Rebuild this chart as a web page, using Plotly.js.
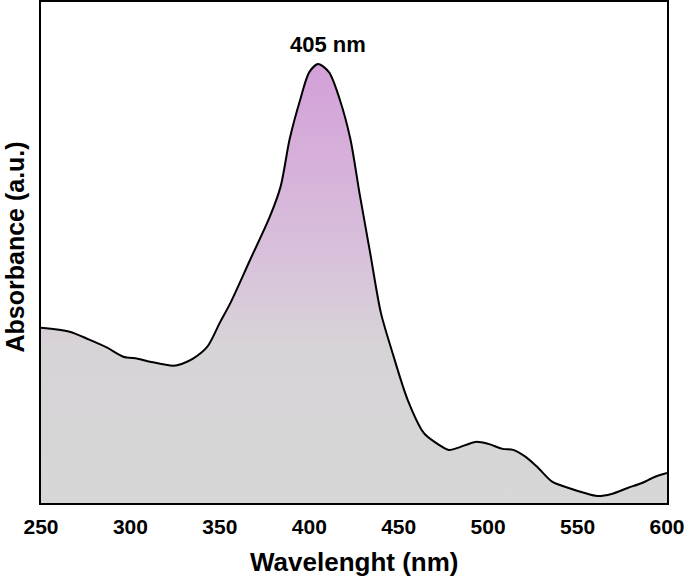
<!DOCTYPE html>
<html>
<head>
<meta charset="utf-8">
<script src="https://cdn.plot.ly/plotly-3.0.1.min.js"></script>
<style>html,body{margin:0;padding:0;background:#fff;}#chart{width:685px;height:582px;}</style>
</head>
<body>
<div id="chart"></div>
<script>
const wavelength = [250, 266, 277, 287, 296, 304, 311, 324, 329, 335, 343, 350, 356, 367, 378, 384, 389, 395, 400, 405, 411, 417, 423, 428, 434, 440, 446, 455, 464, 470, 478, 483, 493, 500, 508, 514, 521, 528, 536, 545, 554, 561, 569, 578, 586, 593, 600];
const absorbance = [0.35, 0.342, 0.326, 0.31, 0.292, 0.288, 0.282, 0.274, 0.278, 0.288, 0.312, 0.36, 0.40, 0.486, 0.572, 0.632, 0.726, 0.806, 0.86, 0.876, 0.86, 0.806, 0.726, 0.62, 0.50, 0.38, 0.306, 0.206, 0.14, 0.122, 0.106, 0.11, 0.122, 0.118, 0.108, 0.106, 0.092, 0.07, 0.042, 0.03, 0.02, 0.014, 0.018, 0.03, 0.04, 0.052, 0.06];
const xTicks = [250, 300, 350, 400, 450, 500, 550, 600];
const peakLabel = "405 nm";
const peakX = 405;
const xTitle = "Wavelenght (nm)";
const yTitle = "Absorbance (a.u.)";

const font = 'Liberation Sans, Arial, sans-serif';
const trace = {
  x: wavelength, y: absorbance, type: 'scatter', mode: 'lines',
  line: {color: '#000', width: 2, shape: 'spline', smoothing: 0.8},
  fill: 'tozeroy',
  fillgradient: {type: 'vertical', start: 0, stop: 0.876,
    colorscale: [[0, '#d7d7d7'], [0.35, '#d7d4d7'], [0.6, '#d8bedb'], [1, '#d3a0d8']]},
  hoverinfo: 'skip'
};
const layout = {
  width: 685, height: 582,
  margin: {l: 41, r: 18, t: 2, b: 79},
  paper_bgcolor: '#fff', plot_bgcolor: '#fff',
  showlegend: false,
  xaxis: {range: [250, 600], tickvals: xTicks, ticktext: xTicks.map(String), ticks: '',
    showgrid: false, zeroline: false, showline: true, linecolor: '#000', linewidth: 2, mirror: true,
    tickfont: {family: font, size: 21, color: '#000', weight: 'bold'}, ticklabelstandoff: 4},
  yaxis: {range: [0, 1.0], showticklabels: false, ticks: '', showgrid: false, zeroline: false,
    showline: true, linecolor: '#000', linewidth: 2, mirror: true},
  annotations: [
    {x: peakX, y: 0.916, xref: 'x', yref: 'y', xshift: 10, text: '<b>' + peakLabel + '</b>', showarrow: false,
     font: {family: font, size: 22, color: '#000'}, xanchor: 'center', yanchor: 'middle'},
    {x: 0.5, y: -0.1178, xref: 'paper', yref: 'paper', text: '<b>' + xTitle + '</b>', showarrow: false,
     font: {family: font, size: 26, color: '#000'}, xanchor: 'center', yanchor: 'middle'},
    {x: -0.0415, y: 0.51, xref: 'paper', yref: 'paper', text: '<b>' + yTitle + '</b>', showarrow: false,
     textangle: -90, font: {family: font, size: 25, color: '#000'}, xanchor: 'center', yanchor: 'middle'}
  ]
};
Plotly.newPlot('chart', [trace], layout, {displayModeBar: false, staticPlot: true});
</script>
</body>
</html>
